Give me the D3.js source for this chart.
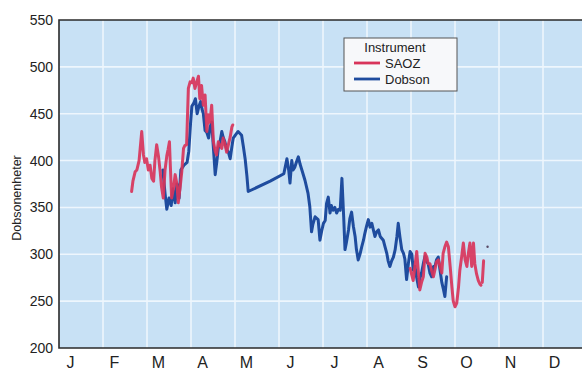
<!DOCTYPE html>
<html>
<head>
<meta charset="utf-8">
<script src="https://cdn.jsdelivr.net/npm/d3@7"></script>
<style>
  html, body { margin: 0; padding: 0; background: #ffffff; }
  svg { display: block; font-family: "Liberation Sans", Arial, sans-serif; }
</style>
</head>
<body>
<svg id="chart" width="582" height="376"></svg>
<script>
// Total ozone column over the year, time in months since 1 January
const monthLabels = ["J", "F", "M", "A", "M", "J", "J", "A", "S", "O", "N", "D"];
const yTicks = [200, 250, 300, 350, 400, 450, 500, 550];

// SAOZ series, split into its continuous stretches
const saozSpring = [
  [1.65,367],[1.68,378],[1.73,388],[1.77,390],[1.82,400],[1.88,431],[1.92,406],[1.95,398],
  [1.99,402],[2.03,390],[2.07,395],[2.11,381],[2.15,378],[2.18,400],[2.22,417],[2.26,405],
  [2.30,388],[2.33,372],[2.37,360],[2.41,390],[2.45,405],[2.48,412],[2.51,420],[2.53,395],
  [2.56,360],[2.60,370],[2.64,385],[2.68,375],[2.71,355],[2.75,370],[2.79,388],[2.83,413],
  [2.86,416],[2.90,417],[2.94,477],[2.98,484],[3.02,483],[3.05,488],[3.09,477],[3.13,484],
  [3.17,490],[3.20,466],[3.24,480],[3.28,459],[3.32,470],[3.36,431],[3.39,449],[3.43,441],
  [3.47,459],[3.51,420],[3.55,410],[3.58,406],[3.62,420],[3.66,416],[3.70,413],[3.73,424],
  [3.77,418],[3.81,409],[3.85,417],[3.89,425],[3.93,436],[3.95,438]
];
const saozAutumn = [
  [7.98,285],[8.05,272],[8.13,303],[8.17,280],[8.20,262],[8.24,270],[8.28,276],[8.32,301],
  [8.36,297],[8.39,290],[8.43,290],[8.47,282],[8.51,276],[8.55,285],[8.58,292],[8.62,294],
  [8.66,287],[8.70,280],[8.73,301],[8.77,308],[8.81,313],[8.85,308],[8.89,287],[8.93,265],
  [8.96,250],[9.00,244],[9.04,248],[9.08,265],[9.11,283],[9.15,297],[9.19,312],[9.23,294],
  [9.27,287],[9.30,300],[9.34,312],[9.38,287],[9.42,312],[9.45,290],[9.49,279],[9.53,272],
  [9.57,268],[9.59,267]
];
const saozLate = [[9.62,270],[9.65,293]];
const saozSingle = [[9.74,308]];

// Dobson series
const dobson = [
  [2.36,390],[2.41,365],[2.45,348],[2.50,360],[2.55,352],[2.59,370],[2.64,355],[2.68,375],
  [2.73,360],[2.77,390],[2.84,395],[2.91,398],[2.95,410],[2.99,440],[3.02,458],[3.07,462],
  [3.10,466],[3.14,450],[3.18,458],[3.22,463],[3.25,455],[3.28,450],[3.32,432],[3.36,430],
  [3.40,424],[3.43,435],[3.47,441],[3.50,420],[3.55,385],[3.59,400],[3.62,413],[3.66,420],
  [3.70,431],[3.73,425],[3.77,420],[3.81,412],[3.85,409],[3.89,402],[3.93,415],[3.96,424],
  [4.02,428],[4.07,431],[4.15,427],[4.19,415],[4.23,402],[4.27,384],[4.30,367],[4.80,378],
  [5.11,386],[5.18,402],[5.22,390],[5.25,376],[5.29,400],[5.32,390],[5.36,393],[5.40,399],
  [5.44,404],[5.48,396],[5.52,390],[5.59,379],[5.66,365],[5.70,351],[5.74,324],[5.77,332],
  [5.82,340],[5.89,337],[5.93,315],[5.97,325],[6.01,333],[6.05,336],[6.08,354],[6.12,361],
  [6.16,344],[6.19,352],[6.23,347],[6.27,350],[6.31,344],[6.35,348],[6.39,347],[6.43,381],
  [6.47,340],[6.50,305],[6.53,312],[6.58,326],[6.61,338],[6.65,345],[6.69,330],[6.73,319],
  [6.76,305],[6.80,294],[6.84,300],[6.88,308],[6.92,315],[6.95,322],[6.99,330],[7.03,337],
  [7.07,329],[7.11,333],[7.15,325],[7.18,319],[7.22,324],[7.26,326],[7.30,319],[7.37,315],
  [7.41,308],[7.45,301],[7.48,293],[7.52,287],[7.56,293],[7.60,297],[7.64,305],[7.68,319],
  [7.71,333],[7.75,318],[7.79,305],[7.83,301],[7.86,295],[7.90,273],[7.94,290],[7.98,303],
  [8.02,300],[8.05,283],[8.09,287],[8.13,275],[8.17,265],[8.20,274],[8.24,280],[8.28,290],
  [8.32,298],[8.36,292],[8.39,290],[8.43,280],[8.47,276],[8.51,287],[8.55,288],[8.58,294],
  [8.62,297],[8.66,283],[8.70,270],[8.74,262],[8.77,255],[8.81,276]
];

const seriesNames = ["SAOZ", "Dobson"];
const seriesColors = ["#d8345a", "#1f4c9e"];

const svg = d3.select("#chart");
const plot = { left: 59, top: 20, right: 587, bottom: 348 };

const x = d3.scaleLinear().domain([0, 12]).range([plot.left, plot.right]);
const y = d3.scaleLinear().domain([200, 550]).range([plot.bottom, plot.top]);

// Plot background
svg.append("rect")
  .attr("x", plot.left).attr("y", plot.top)
  .attr("width", plot.right - plot.left).attr("height", plot.bottom - plot.top)
  .attr("fill", "#c8e1f5");

// Grid lines
const grid = svg.append("g").attr("stroke", "#eef6fd").attr("stroke-width", 1.6);
grid.selectAll("line.v").data(d3.range(1, 12)).join("line")
  .attr("class", "v")
  .attr("x1", d => x(d)).attr("x2", d => x(d))
  .attr("y1", plot.top).attr("y2", plot.bottom);
grid.selectAll("line.h").data(yTicks.slice(1, -1)).join("line")
  .attr("class", "h")
  .attr("x1", plot.left).attr("x2", plot.right)
  .attr("y1", d => y(d)).attr("y2", d => y(d));

// Lines
const line = d3.line().x(d => x(d[0])).y(d => y(d[1])).curve(d3.curveLinear);
const lines = svg.append("g").attr("fill", "none")
  .attr("stroke-width", 3).attr("stroke-linejoin", "round").attr("stroke-linecap", "round");

lines.append("path").datum(dobson).attr("d", line).attr("stroke", seriesColors[1]);
[saozSpring, saozAutumn, saozLate].forEach(seg => {
  lines.append("path").datum(seg).attr("d", line)
    .attr("stroke", seriesColors[0]).attr("stroke-opacity", 0.92);
});
svg.append("g").selectAll("circle").data(saozSingle).join("circle")
  .attr("cx", d => x(d[0])).attr("cy", d => y(d[1])).attr("r", 1.2)
  .attr("fill", "#5a4a66");

// Frame
svg.append("path")
  .attr("d", `M${plot.right},${plot.top}H${plot.left}V${plot.bottom}H${plot.right}`)
  .attr("fill", "none").attr("stroke", "#2a2a2a").attr("stroke-width", 1.6);

// Y axis labels
const yAxis = d3.axisLeft(y).tickValues(yTicks).tickSize(0).tickPadding(6);
const gy = svg.append("g").attr("transform", `translate(${plot.left},0)`).call(yAxis);
gy.select(".domain").remove();
gy.selectAll("text").attr("font-size", 14).attr("fill", "#222")
  .attr("font-family", "Liberation Sans, Arial, sans-serif");

// X axis month labels
const xAxis = d3.axisBottom(x).tickValues(d3.range(0, 12).map(m => m + 0.25))
  .tickSize(0).tickPadding(9).tickFormat((d, i) => monthLabels[i]);
const gx = svg.append("g").attr("transform", `translate(0,${plot.bottom})`).call(xAxis);
gx.select(".domain").remove();
gx.selectAll("text").attr("font-size", 16).attr("fill", "#222")
  .attr("font-family", "Liberation Sans, Arial, sans-serif");

// Y axis title
svg.append("text")
  .attr("transform", `translate(21,${(plot.top + plot.bottom) / 2 + 14}) rotate(-90)`)
  .attr("text-anchor", "middle").attr("font-size", 12.5).attr("fill", "#222")
  .text("Dobsonenheter");

// Legend
const legend = svg.append("g").attr("transform", "translate(344,38)");
legend.append("rect").attr("width", 113).attr("height", 53)
  .attr("fill", "#f7f8fa").attr("stroke", "#555").attr("stroke-width", 1);
legend.append("text").attr("x", 51).attr("y", 14).attr("text-anchor", "middle")
  .attr("font-size", 13).attr("fill", "#222").text("Instrument");
seriesNames.forEach((name, i) => {
  const gy0 = 25 + i * 16;
  legend.append("line").attr("x1", 10).attr("x2", 36).attr("y1", gy0).attr("y2", gy0)
    .attr("stroke", seriesColors[i]).attr("stroke-width", 2.8);
  legend.append("text").attr("x", 41).attr("y", gy0 + 5)
    .attr("font-size", 13).attr("fill", "#222").text(name);
});
</script>
</body>
</html>
